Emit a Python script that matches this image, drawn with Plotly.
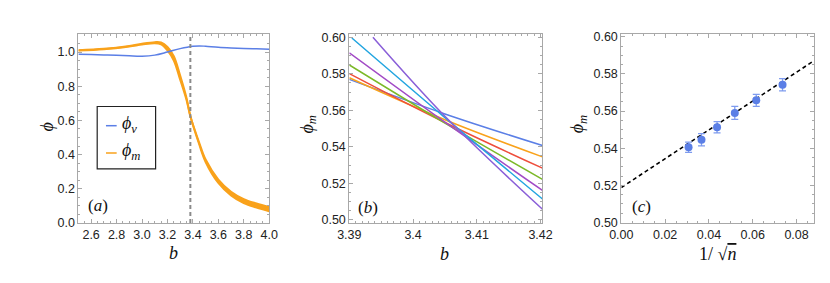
import plotly.graph_objects as go

# ---------------- data ----------------
# panel (a)
b_a = [2.5, 2.6, 2.7, 2.8, 2.9, 3.0, 3.1, 3.2, 3.3, 3.4, 3.45, 3.5, 3.6, 3.7, 3.8, 3.9, 4.0]
phi_v = [0.987, 0.985, 0.983, 0.981, 0.978, 0.976, 0.982, 1.000, 1.020, 1.034, 1.036, 1.034, 1.028, 1.024, 1.021, 1.019, 1.017]

b_m = [2.5, 2.7, 2.9, 3.0, 3.1, 3.15, 3.2, 3.25, 3.3, 3.35, 3.38, 3.45, 3.5, 3.6, 3.7, 3.8, 3.9, 4.0]
phi_m_large_n = [1.011, 1.019, 1.036, 1.049, 1.058, 1.056, 1.030, 0.976, 0.862, 0.731, 0.626, 0.459, 0.357, 0.234, 0.161, 0.116, 0.090, 0.069]
phi_m_small_n = [1.009, 1.017, 1.033, 1.044, 1.052, 1.045, 1.010, 0.950, 0.838, 0.719, 0.624, 0.469, 0.371, 0.254, 0.183, 0.140, 0.114, 0.093]
b_c = 3.38

# panel (b)
b_series_x = {
    "n1": [3.39, 3.405, 3.4203],
    "n2": [3.39, 3.405, 3.4203],
    "n3": [3.39, 3.405, 3.4203],
    "n4": [3.39, 3.405, 3.4203],
    "n5": [3.39, 3.405, 3.4203],
    "n6": [3.3904, 3.405, 3.4203],
    "n7": [3.3937, 3.405, 3.4203],
}
b_series_y = {
    "n1": [0.5769, 0.5580, 0.5407],
    "n2": [0.5778, 0.5548, 0.5345],
    "n3": [0.5801, 0.5533, 0.5283],
    "n4": [0.5848, 0.5530, 0.5222],
    "n5": [0.5915, 0.5535, 0.5161],
    "n6": [0.5996, 0.5560, 0.5114],
    "n7": [0.6000, 0.5567, 0.5058],
}
b_colors = ["#5B7FE6", "#F9A21B", "#EE4E3C", "#7CB928", "#A24BC6", "#23A5E0", "#8A5FD8"]

# panel (c)
inv_sqrt_n = [0.0307, 0.0366, 0.0437, 0.0518, 0.0616, 0.0736]
phi_m_c = [0.5405, 0.5446, 0.5513, 0.5590, 0.5658, 0.5742]
phi_m_err = [0.0028, 0.0033, 0.0030, 0.0035, 0.0032, 0.0033]
fit_x = [0.0, 0.088]
fit_y = [0.5188, 0.5872]

BLUE = "#5B7FE6"
ORANGE = "#F9A21B"
FRAME = "#A8A8A8"

W, H = 830, 283
def px(x):
    return x / W
def py(y):
    return 1 - y / H

fig = go.Figure()

# ---- panel (a)
fig.add_trace(go.Scatter(x=b_m, y=phi_m_large_n, mode="lines", line=dict(color=ORANGE, width=2, shape="spline"),
                         xaxis="x", yaxis="y", showlegend=False))
fig.add_trace(go.Scatter(x=b_m, y=phi_m_small_n, mode="lines", line=dict(color=ORANGE, width=2, shape="spline"),
                         fill="tonexty", fillcolor=ORANGE, xaxis="x", yaxis="y", showlegend=False))
fig.add_trace(go.Scatter(x=b_a, y=phi_v, mode="lines", line=dict(color=BLUE, width=1.5, shape="spline"),
                         xaxis="x", yaxis="y", showlegend=False))
fig.add_trace(go.Scatter(x=[b_c, b_c], y=[0, 1.105], mode="lines",
                         line=dict(color="#8A8A8A", width=2, dash="4px,3px"),
                         xaxis="x", yaxis="y", showlegend=False))

# ---- panel (b)
for (k, xs), col in zip(b_series_x.items(), b_colors):
    fig.add_trace(go.Scatter(x=xs, y=b_series_y[k], mode="lines",
                             line=dict(color=col, width=1.5, shape="spline"),
                             xaxis="x2", yaxis="y2", showlegend=False))

# ---- panel (c)
fig.add_trace(go.Scatter(x=fit_x, y=fit_y, mode="lines", line=dict(color="black", width=1.6, dash="4px,3px"),
                         xaxis="x3", yaxis="y3", showlegend=False))
fig.add_trace(go.Scatter(x=inv_sqrt_n, y=phi_m_c, mode="markers",
                         marker=dict(color=BLUE, size=8),
                         error_y=dict(type="data", array=phi_m_err, color="#7E9BEE", thickness=1.3, width=3.5),
                         xaxis="x3", yaxis="y3", showlegend=False))

ytop, ybot = py(23), py(219.5)
tickfont = dict(family="Liberation Sans, Arial, sans-serif", size=12.5, color="#222222")

def axis_common(domain, rng, tickvals, ticktext, minor_dtick, anchor):
    return dict(domain=domain, range=rng, tickvals=tickvals, ticktext=ticktext,
                ticks="inside", ticklen=4, tickcolor=FRAME, tickwidth=1,
                showline=True, linecolor=FRAME, linewidth=1, mirror="ticks",
                showgrid=False, zeroline=False, tickfont=tickfont, anchor=anchor,
                minor=dict(ticks="inside", ticklen=2, tickcolor=FRAME, dtick=minor_dtick, showgrid=False))

xa_ticks = [2.6, 2.8, 3.0, 3.2, 3.4, 3.6, 3.8, 4.0]
ya_ticks = [0.0, 0.2, 0.4, 0.6, 0.8, 1.0]
xb_ticks = [3.39, 3.40, 3.41, 3.42]
xb_text = ["3.39", "3.4", "3.41", "3.42"]
yb_ticks = [0.50, 0.52, 0.54, 0.56, 0.58, 0.60]
xc_ticks = [0.00, 0.02, 0.04, 0.06, 0.08]

fig.update_layout(
    width=W, height=H, margin=dict(l=0, r=0, t=0, b=0),
    paper_bgcolor="white", plot_bgcolor="white", showlegend=False,
    xaxis=axis_common([px(60), px(256)], [2.5, 4.0], xa_ticks, [f"{v:.1f}" for v in xa_ticks], 0.05, "y"),
    yaxis=axis_common([ybot, ytop], [0, 1.105], ya_ticks, [f"{v:.1f}" for v in ya_ticks], 0.05, "x"),
    xaxis2=axis_common([px(338.3), px(536.7)], [3.39, 3.4203], xb_ticks, xb_text, 0.001, "y2"),
    yaxis2=axis_common([ybot, ytop], [0.4983, 0.6017], yb_ticks, [f"{v:.2f}" for v in yb_ticks], 0.005, "x2"),
    xaxis3=axis_common([px(617.7), px(815.7)], [0.0, 0.088], xc_ticks, [f"{v:.2f}" for v in xc_ticks], 0.005, "y3"),
    yaxis3=axis_common([ybot, ytop], [0.4997, 0.6015], yb_ticks, [f"{v:.2f}" for v in yb_ticks], 0.005, "x3"),
)

SERIF = "Liberation Serif, Times New Roman, serif"
def ann(x, y, text, size=18, angle=0, xanchor="center"):
    fig.add_annotation(x=px(x), y=py(y), xref="paper", yref="paper", text=text, showarrow=False,
                       font=dict(family=SERIF, size=size, color="#111111"), textangle=angle,
                       xanchor=xanchor, yanchor="middle")

# axis labels
ann(158, 251, "<i>b</i>")
ann(28, 120, "<i>ϕ</i>", angle=-90)
ann(436, 252, "<i>b</i>")
ann(296, 117, "<i>ϕ</i><sub><i>m</i></sub>", angle=-90)
ann(716, 252, "1/ √<span style='text-decoration:overline'><i>n</i></span>")
ann(574, 117, "<i>ϕ</i><sub><i>m</i></sub>", angle=-90)
# panel labels
ann(80, 201, "(<i>a</i>)", size=17)
ann(357, 203, "(<i>b</i>)", size=17)
ann(638, 202, "(<i>c</i>)", size=17)

# legend for panel (a)
fig.add_shape(type="rect", xref="paper", yref="paper", x0=px(79.3), x1=px(139.3), y0=py(163.3), y1=py(98.3),
              line=dict(color="#222222", width=1.2), fillcolor="white", layer="above")
fig.add_shape(type="line", xref="paper", yref="paper", x0=px(88.3), x1=px(99.3), y0=py(118.3), y1=py(118.3),
              line=dict(color=BLUE, width=1.5))
fig.add_shape(type="line", xref="paper", yref="paper", x0=px(88.3), x1=px(99.3), y0=py(146.7), y1=py(146.7),
              line=dict(color=ORANGE, width=1.5))
ann(103, 117, "<i>ϕ</i><sub><i>v</i></sub>", xanchor="left")
ann(103, 145, "<i>ϕ</i><sub><i>m</i></sub>", xanchor="left")

fig.write_html("out.html")
